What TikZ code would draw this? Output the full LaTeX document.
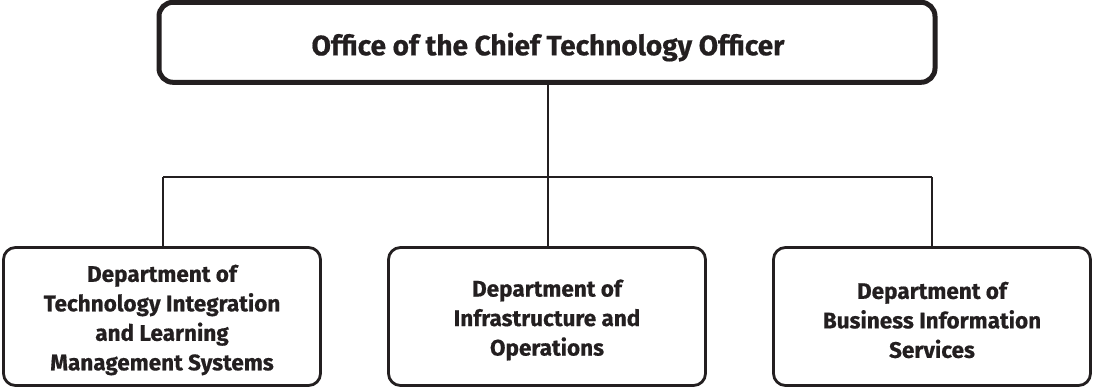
\documentclass[tikz,border=0pt]{standalone}
\usepackage{fontspec}
\setmainfont{Fira Sans}[BoldFeatures={FakeBold=0.6}]
\definecolor{ink}{RGB}{35,31,32}
\begin{document}
\begin{tikzpicture}[x=1pt,y=-1pt,
  topbox/.style={draw=ink,line width=5pt,rounded corners=14pt,minimum width=776pt,minimum height=80pt,inner sep=0pt},
  deptbox/.style={draw=ink,line width=2.8pt,rounded corners=12pt,minimum width=317pt,minimum height=138pt,inner sep=0pt},
  lbl/.style={text=ink,font=\bfseries\fontsize{22.5}{29.5}\selectfont,align=center},
  conn/.style={draw=ink,line width=2.6pt}]
\useasboundingbox (0,0) rectangle (1093,388);
\node[topbox] (cto) at (547,42.3) {};
\node[lbl,font=\bfseries\fontsize{28}{34}\selectfont] (ctot) at (548,47) {Office of the Chief Technology Officer};
\node[deptbox] (d1) at (162,316.5) {};
\node[deptbox] (d2) at (547,316.5) {};
\node[deptbox] (d3) at (932,316.5) {};
\node[lbl] (t1) at (162,320) {Department of\\Technology Integration\\and Learning\\Management Systems};
\node[lbl] (t2) at (547,320) {Department of\\Infrastructure and\\Operations};
\node[lbl] (t3) at (932,320) {Department of\\Business Information\\Services};
\coordinate (j) at (548,177);
\coordinate (jl) at (163,177);
\coordinate (jr) at (932,177);
\draw[conn] (cto.south -| j) -- (j);
\draw[conn] (jl) -- (jr);
\draw[conn] (jl) -- (jl |- d1.north);
\draw[conn] (j) -- (j |- d2.north);
\draw[conn] (jr) -- (jr |- d3.north);
\end{tikzpicture}
\end{document}
